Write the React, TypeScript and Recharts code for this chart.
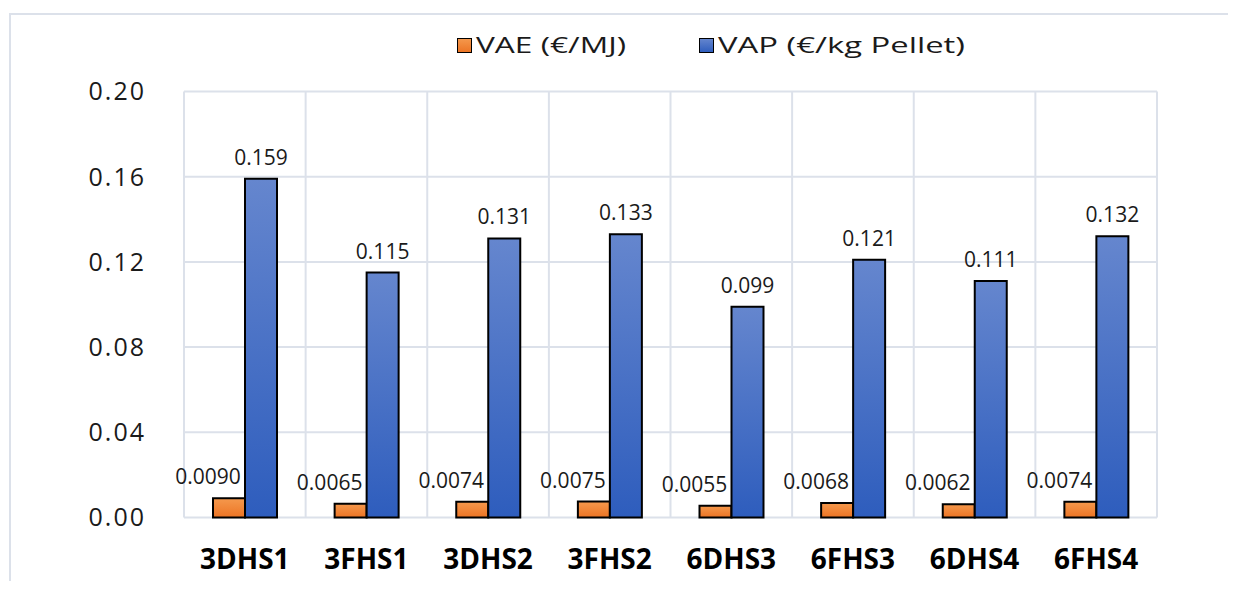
import { BarChart, Bar, XAxis, YAxis, CartesianGrid, Legend, LabelList } from "recharts"

const categories = ["3DHS1", "3FHS1", "3DHS2", "3FHS2", "6DHS3", "6FHS3", "6DHS4", "6FHS4"]
// VAE in €/MJ, VAP in €/kg pellet
const vaeValues = [0.009, 0.0065, 0.0074, 0.0075, 0.0055, 0.0068, 0.0062, 0.0074]
const vapValues = [0.159, 0.115, 0.131, 0.133, 0.099, 0.121, 0.111, 0.132]
const yTicks = [0, 0.04, 0.08, 0.12, 0.16, 0.2]
const seriesNames = ["VAE (€/MJ)", "VAP (€/kg Pellet)"]

const data = categories.map((name, i) => ({ name, vae: vaeValues[i], vap: vapValues[i] }))

const FONT = "'Open Sans', 'Noto Sans', sans-serif"
const GRID = "#DCE1EA"

// value label sitting above a bar, optionally nudged sideways
const topLabel = (digits: number, dx: number) => (props: any) => {
  const { x, y, width, value } = props
  return (
    <text
      x={Number(x) + Number(width) / 2 + dx}
      y={Number(y) - 14}
      textAnchor="middle"
      fontFamily={FONT}
      fontSize={21}
      fill="#1a1a1a"
    >
      {Number(value).toFixed(digits)}
    </text>
  )
}

const renderLegend = () => (
  <svg width={540} height={32} style={{ display: "block" }}>
    <rect x={0.5} y={8.5} width={14} height={14} fill="url(#legOrange)" stroke="#000" strokeWidth={1} />
    <text x={19} y={23} fontFamily={FONT} fontSize={21} fill="#1a1a1a" textLength={150} lengthAdjust="spacingAndGlyphs">
      {seriesNames[0]}
    </text>
    <rect x={242.5} y={8.5} width={14} height={14} fill="url(#legBlue)" stroke="#000" strokeWidth={1} />
    <text x={261} y={23} fontFamily={FONT} fontSize={21} fill="#1a1a1a" textLength={247} lengthAdjust="spacingAndGlyphs">
      {seriesNames[1]}
    </text>
    <defs>
      <linearGradient id="legOrange" x1="0" y1="0" x2="0" y2="1">
        <stop offset="0%" stopColor="#F5994D" />
        <stop offset="100%" stopColor="#EC7424" />
      </linearGradient>
      <linearGradient id="legBlue" x1="0" y1="0" x2="0" y2="1">
        <stop offset="0%" stopColor="#6586CE" />
        <stop offset="100%" stopColor="#2E5DBD" />
      </linearGradient>
    </defs>
  </svg>
)

export default function App() {
  return (
    <div style={{ paddingTop: 5, fontFamily: FONT }}>
      <div
        style={{
          marginLeft: 1,
          borderLeft: `2px solid ${GRID}`,
          borderTop: `2px solid ${GRID}`,
          width: 1217,
          height: 566,
        }}
      >
        <BarChart
          width={1217}
          height={566}
          data={data}
          margin={{ top: 76.5, right: 71, left: 0, bottom: 0 }}
          barGap={0}
          barSize={32}
        >
          <defs>
            <linearGradient id="gradOrange" x1="0" y1="0" x2="0" y2="1">
              <stop offset="0%" stopColor="#F5994D" />
              <stop offset="100%" stopColor="#EC7424" />
            </linearGradient>
            <linearGradient id="gradBlue" x1="0" y1="0" x2="0" y2="1">
              <stop offset="0%" stopColor="#6586CE" />
              <stop offset="100%" stopColor="#2E5DBD" />
            </linearGradient>
          </defs>
          <CartesianGrid
            stroke={GRID}
            strokeWidth={2}
            verticalCoordinatesGenerator={({ offset }: any) =>
              categories.concat("").map((_, i) => offset.left + (i * offset.width) / categories.length)
            }
          />
          <XAxis
            dataKey="name"
            height={63.5}
            interval={0}
            tickLine={false}
            axisLine={false}
            tickSize={0}
            tickMargin={32}
            tick={{ fontFamily: FONT, fontSize: 28, fontWeight: 700, fill: "#000" }}
          />
          <YAxis
            width={173}
            domain={[0, 0.2]}
            ticks={yTicks}
            tickLine={false}
            axisLine={false}
            tickSize={0}
            tickMargin={38}
            tickFormatter={(v: number) => v.toFixed(2)}
            tick={{ fontFamily: FONT, fontSize: 25, fill: "#1a1a1a", letterSpacing: 2 }}
          />
          <Legend
            verticalAlign="middle"
            align="center"
            layout="horizontal"
            content={renderLegend}
            wrapperStyle={{ top: 15, left: 446, width: 540, height: 32 }}
          />
          <Bar dataKey="vae" name={seriesNames[0]} fill="url(#gradOrange)" stroke="#000" strokeWidth={2} isAnimationActive={false}>
            <LabelList dataKey="vae" content={topLabel(4, -21)} />
          </Bar>
          <Bar dataKey="vap" name={seriesNames[1]} fill="url(#gradBlue)" stroke="#000" strokeWidth={2} isAnimationActive={false}>
            <LabelList dataKey="vap" content={topLabel(3, 0)} />
          </Bar>
        </BarChart>
      </div>
    </div>
  )
}
